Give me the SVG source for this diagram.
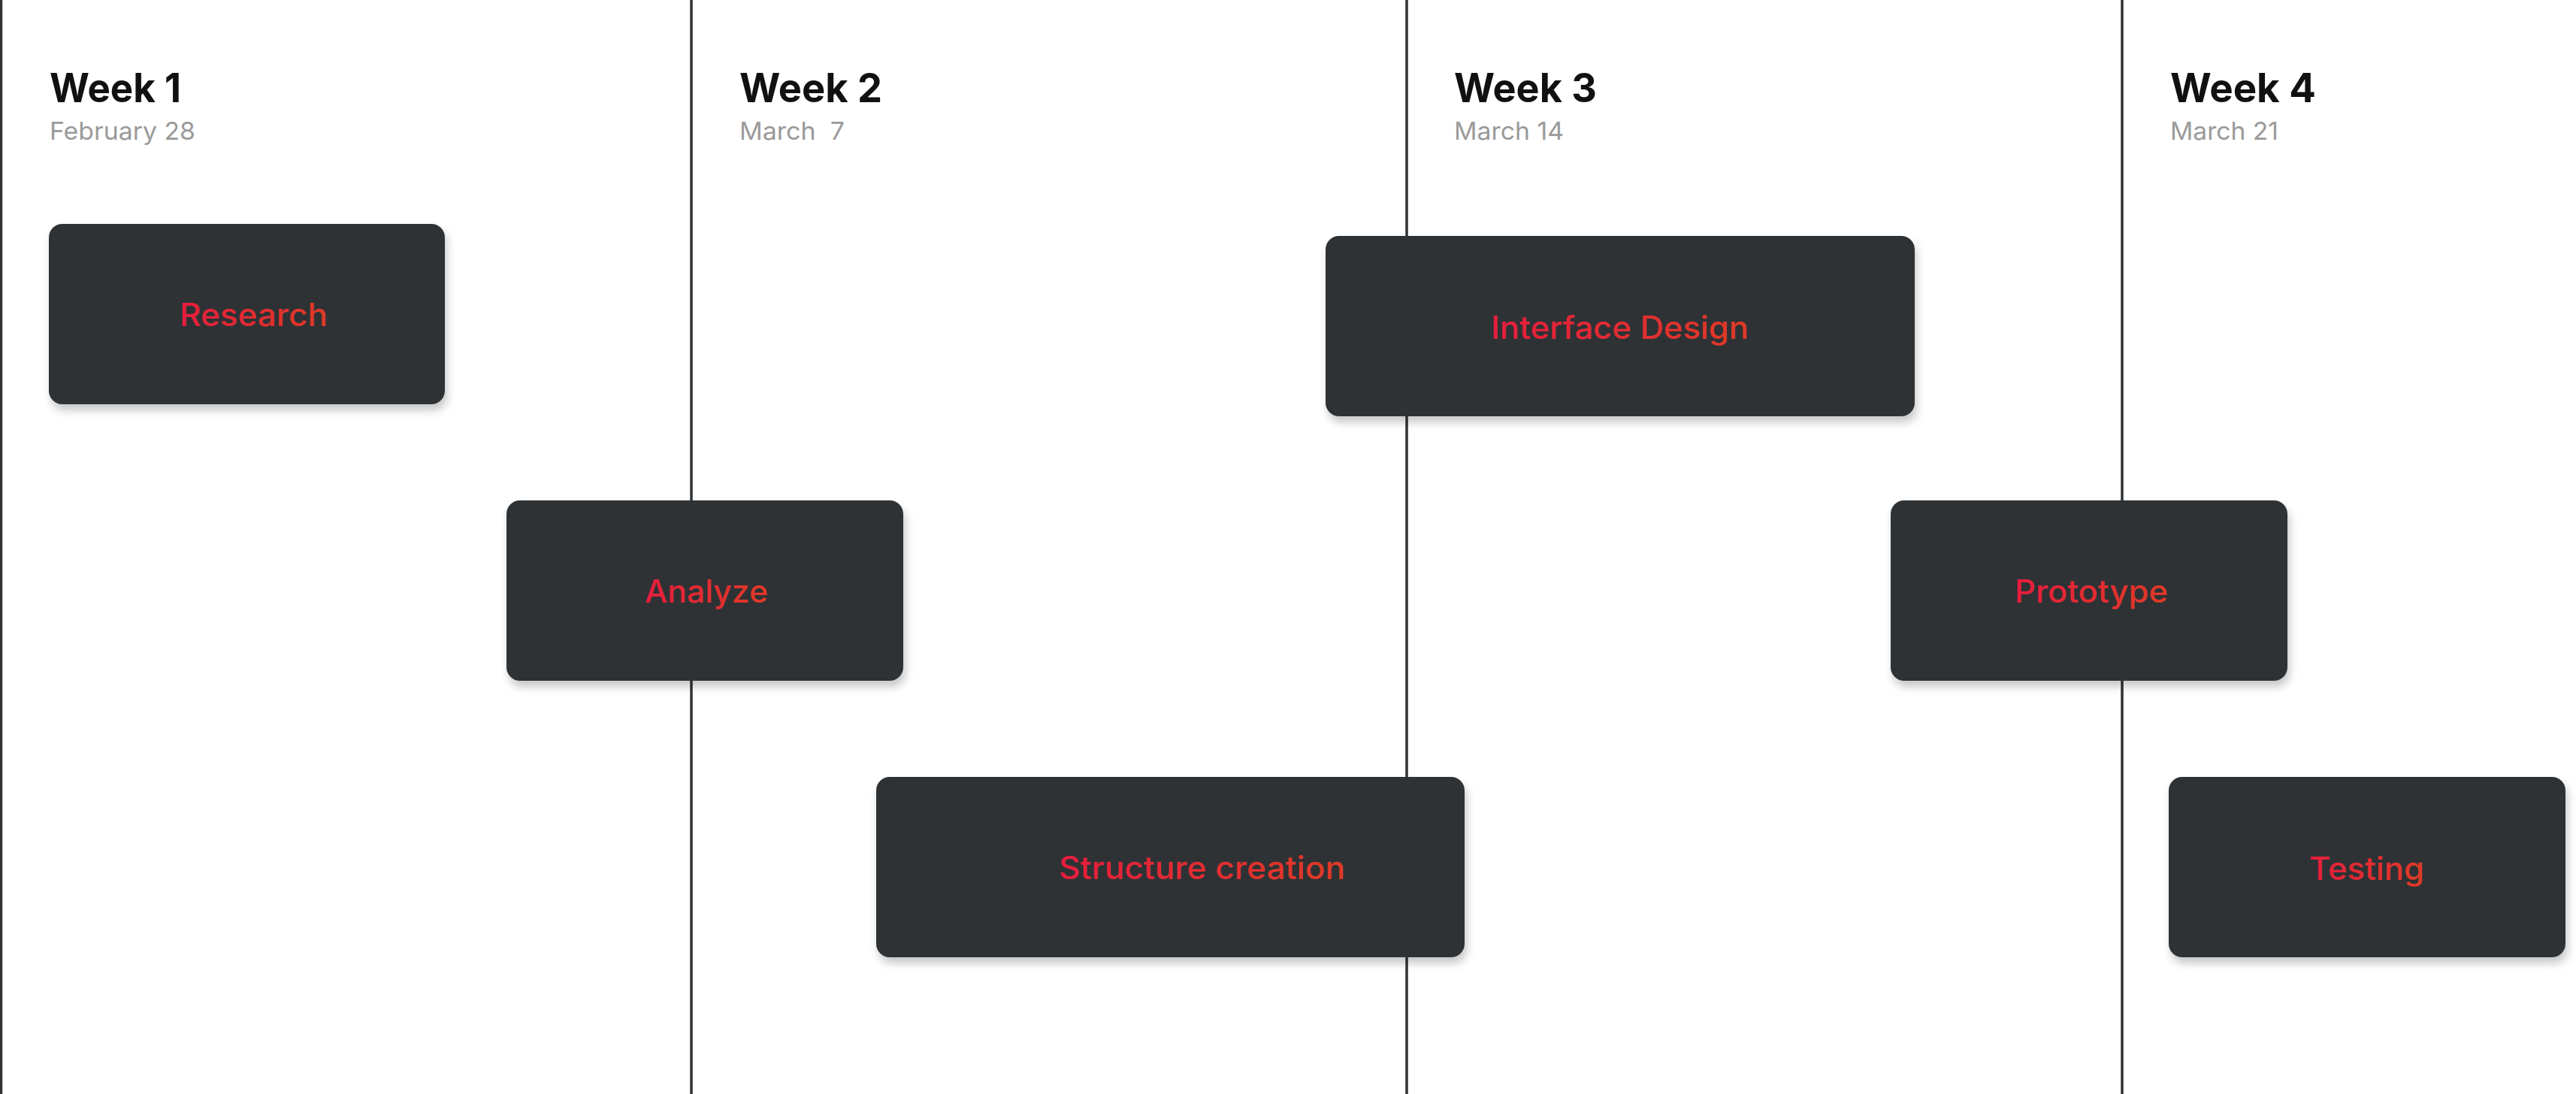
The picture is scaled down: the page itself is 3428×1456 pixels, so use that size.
<svg xmlns="http://www.w3.org/2000/svg" width="3428" height="1456" viewBox="0 0 3428 1456">
<defs>
<linearGradient id="lbl" x1="0" y1="0" x2="1" y2="0">
<stop offset="0" stop-color="#e61d3d"/>
<stop offset="1" stop-color="#de3b26"/>
</linearGradient>
<filter id="sh" x="-10%" y="-10%" width="125%" height="130%">
<feDropShadow dx="3" dy="8" stdDeviation="6" flood-color="#000" flood-opacity="0.22"/>
</filter>
</defs>
<style>
.line{stroke:#2f3235;stroke-width:3.5;fill:none}
.box{fill:#2f3235;filter:url(#sh)}
.wk{font-family:Inter,"Liberation Sans",sans-serif;font-weight:700;font-size:54px;fill:#111111}
.dt{font-family:Inter,"Liberation Sans",sans-serif;font-weight:400;font-size:33px;fill:#9a9a9a;white-space:pre}
.lb{font-family:Inter,"Liberation Sans",sans-serif;font-weight:500;font-size:42px;fill:url(#lbl)}
</style>
<rect width="3428" height="1456" fill="#ffffff"/>
<g id="connectors">
<line class="line" x1="1.5" y1="0" x2="1.5" y2="1456"/>
<line class="line" x1="920" y1="0" x2="920" y2="1456"/>
<line class="line" x1="1872" y1="0" x2="1872" y2="1456"/>
<line class="line" x1="2824" y1="0" x2="2824" y2="1456"/>
</g>
<g id="headers">
<g id="week1"><text class="wk" x="66" y="136" textLength="175" lengthAdjust="spacingAndGlyphs">Week 1</text><text class="dt" x="66" y="186" textLength="194" lengthAdjust="spacingAndGlyphs">February 28</text></g>
<g id="week2"><text class="wk" x="984" y="136" textLength="190" lengthAdjust="spacingAndGlyphs">Week 2</text><text class="dt" x="984" y="186" xml:space="preserve" textLength="140" lengthAdjust="spacingAndGlyphs">March  7</text></g>
<g id="week3"><text class="wk" x="1935" y="136" textLength="190" lengthAdjust="spacingAndGlyphs">Week 3</text><text class="dt" x="1935" y="186" textLength="146" lengthAdjust="spacingAndGlyphs">March 14</text></g>
<g id="week4"><text class="wk" x="2888" y="136" textLength="194" lengthAdjust="spacingAndGlyphs">Week 4</text><text class="dt" x="2888" y="186" textLength="144" lengthAdjust="spacingAndGlyphs">March 21</text></g>
</g>
<g id="research"><rect class="box" x="65" y="298" width="527" height="240" rx="18"/><text class="lb" x="239" y="434" textLength="197" lengthAdjust="spacingAndGlyphs">Research</text></g>
<g id="analyze"><rect class="box" x="674" y="666" width="528" height="240" rx="18"/><text class="lb" x="858" y="802" textLength="164" lengthAdjust="spacingAndGlyphs">Analyze</text></g>
<g id="structure-creation"><rect class="box" x="1166" y="1034" width="783" height="240" rx="18"/><text class="lb" x="1409" y="1170" textLength="381" lengthAdjust="spacingAndGlyphs">Structure creation</text></g>
<g id="interface-design"><rect class="box" x="1764" y="314" width="784" height="240" rx="18"/><text class="lb" x="1984" y="451" textLength="343" lengthAdjust="spacingAndGlyphs">Interface Design</text></g>
<g id="prototype"><rect class="box" x="2516" y="666" width="528" height="240" rx="18"/><text class="lb" x="2681" y="802" textLength="204" lengthAdjust="spacingAndGlyphs">Prototype</text></g>
<g id="testing"><rect class="box" x="2886" y="1034" width="528" height="240" rx="18"/><text class="lb" x="3073" y="1171" textLength="153" lengthAdjust="spacingAndGlyphs">Testing</text></g>
</svg>
